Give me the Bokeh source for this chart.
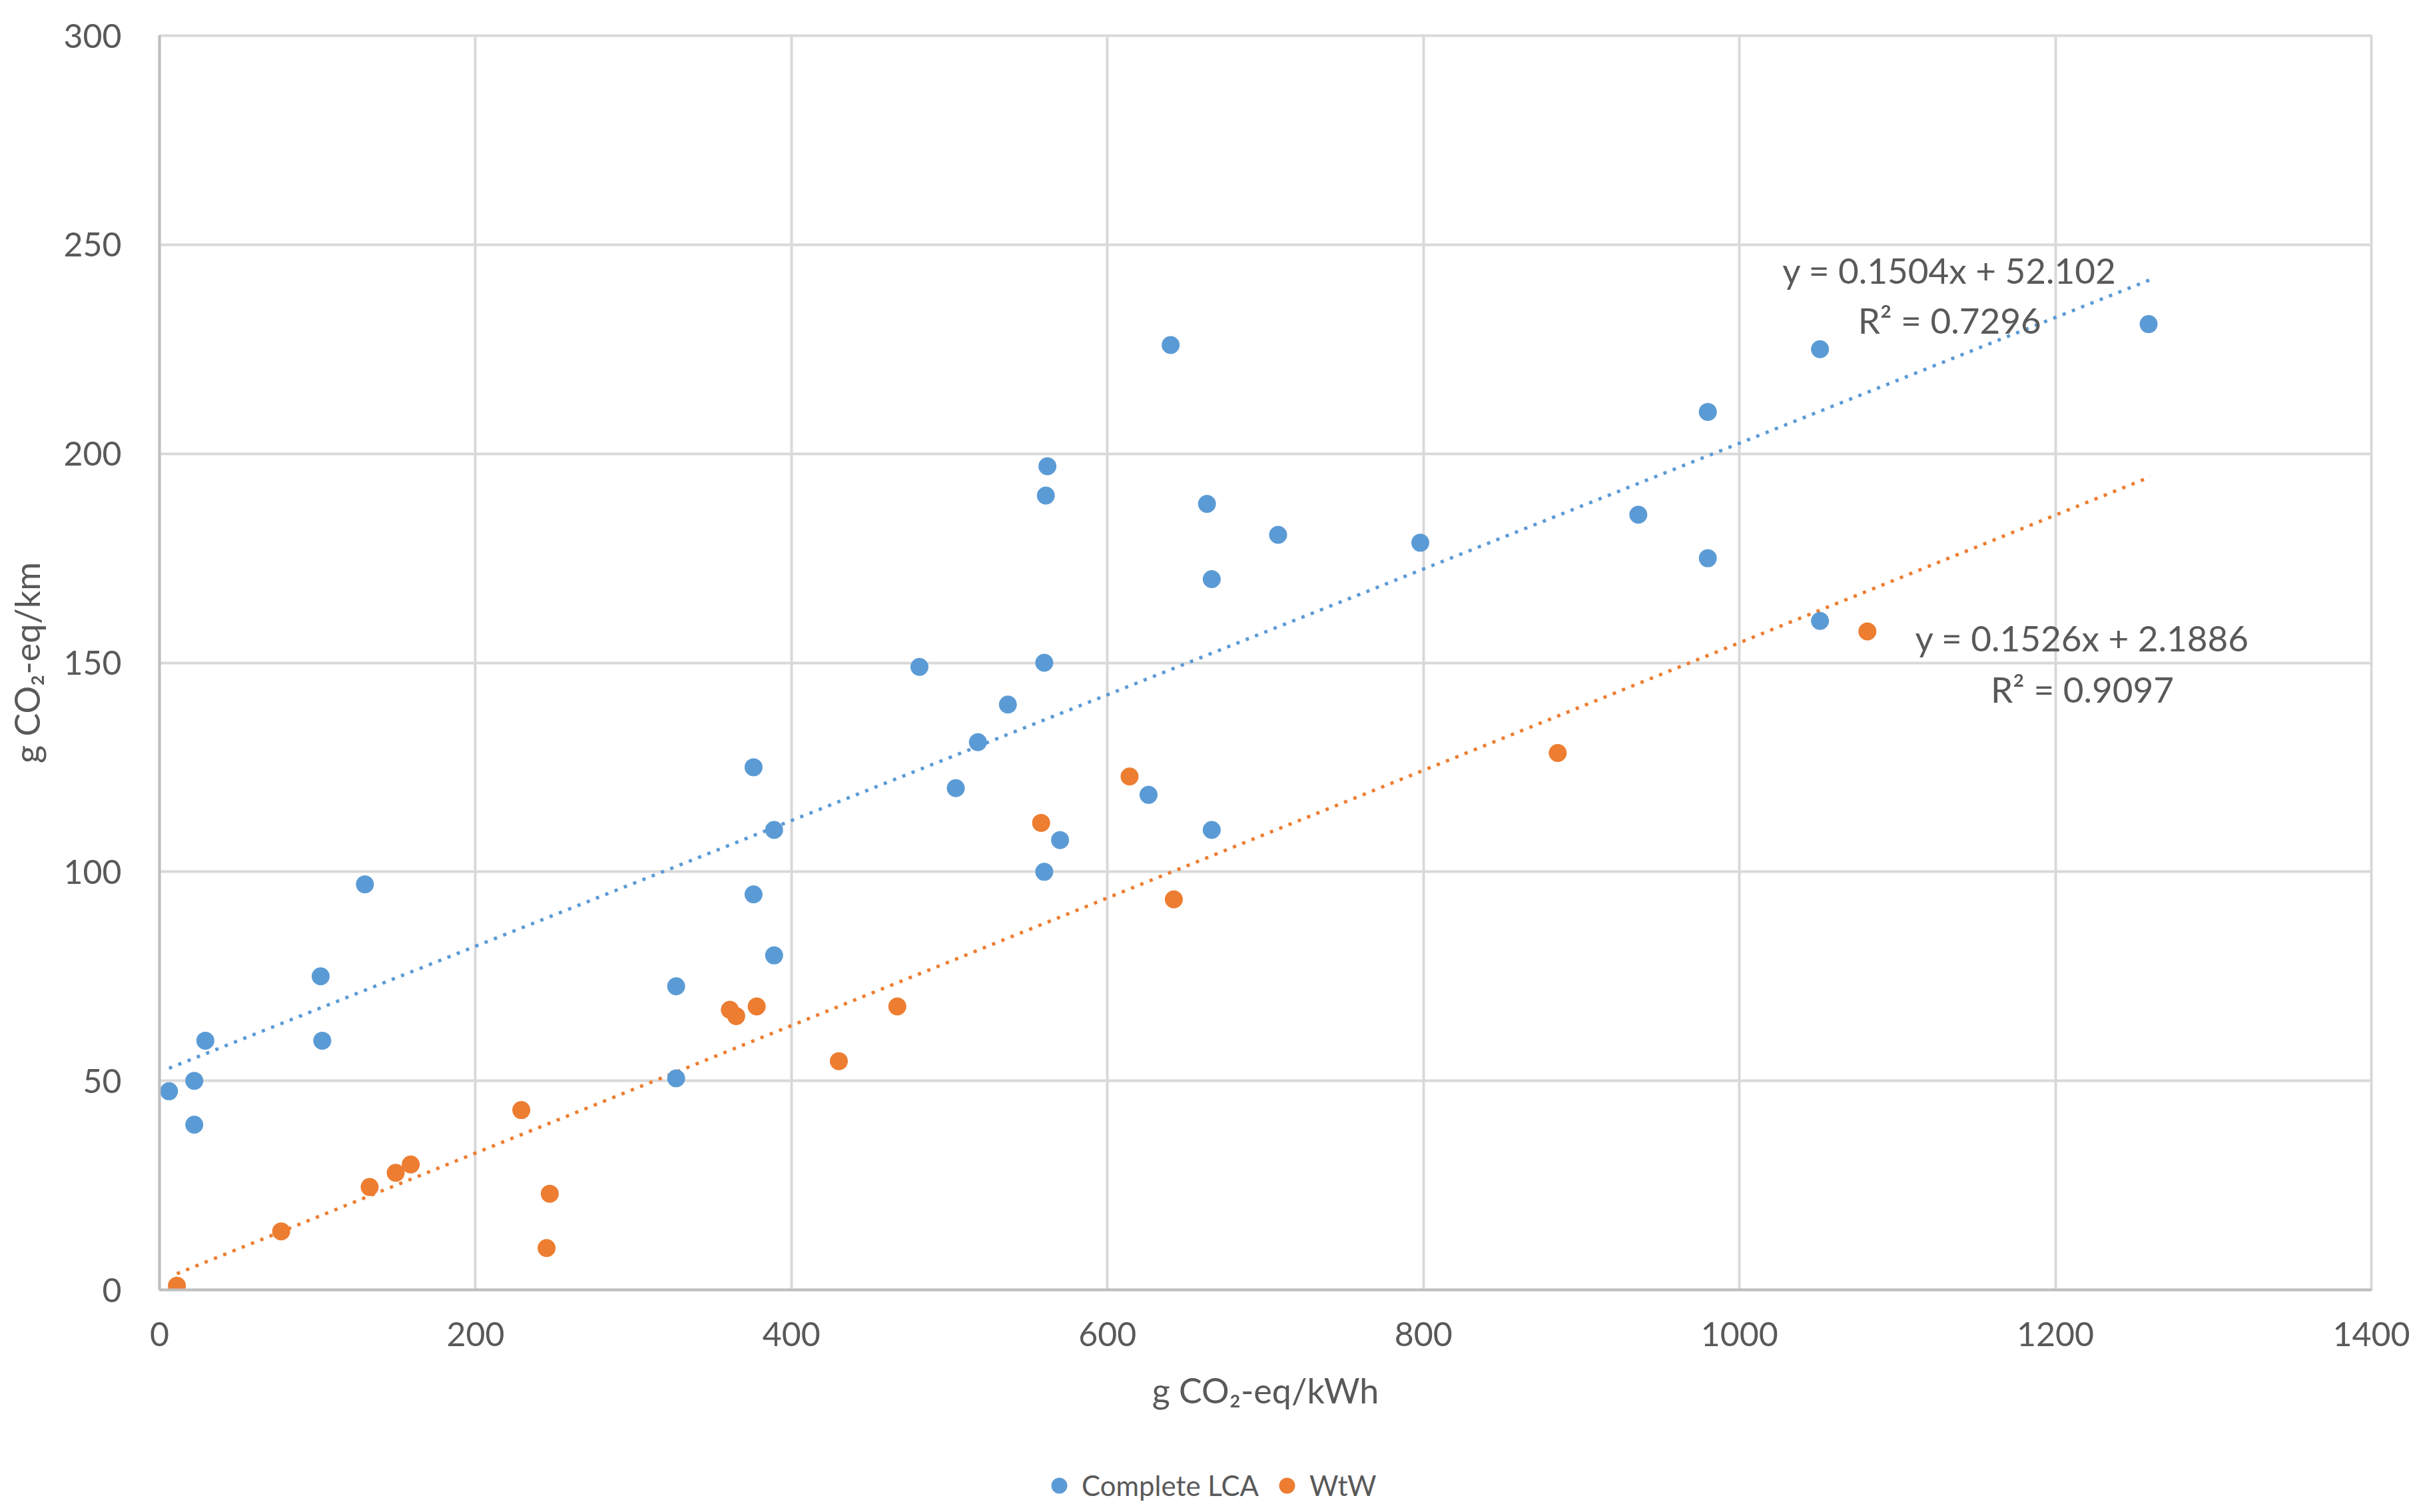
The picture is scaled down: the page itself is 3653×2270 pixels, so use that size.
from bokeh.plotting import figure
from bokeh.layouts import column
from bokeh.models import Legend, LegendItem, Label, FixedTicker, Range1d
from bokeh.embed import file_html
from bokeh.resources import INLINE

# ---- data ----
lca_x = [6, 22, 22, 29, 102, 103, 130, 327, 327, 376, 376, 389, 389, 481, 504, 518, 537,
         560, 560, 562, 561, 570, 626, 640, 663, 666, 666, 708, 798, 936, 980, 980, 1051, 1051, 1259]
lca_y = [47.5, 50, 39.5, 59.6, 75, 59.6, 97, 72.6, 50.6, 125, 94.6, 110, 80, 149, 120, 131, 140,
         150, 100, 197, 190, 107.6, 118.4, 226, 188, 170, 110, 180.6, 178.7, 185.4, 210, 175, 225, 160, 231]

wtw_x = [11, 77, 133, 149.5, 159, 229, 245, 247, 361, 365, 378, 430, 467, 558, 614, 642, 885, 1081]
wtw_y = [1, 14, 24.6, 28, 30, 43, 10, 23, 67, 65.5, 67.8, 54.7, 67.8, 111.7, 122.8, 93.4, 128.4, 157.5]

lca_slope, lca_intercept, lca_r2 = 0.1504, 52.102, 0.7296
wtw_slope, wtw_intercept, wtw_r2 = 0.1526, 2.1886, 0.9097
lca_trend_x = [6, 1260]
wtw_trend_x = [11, 1260]

x_ticks = [0, 200, 400, 600, 800, 1000, 1200, 1400]
y_ticks = [0, 50, 100, 150, 200, 250, 300]

series_names = ["Complete LCA", "WtW"]
x_title = "g CO\u2082-eq/kWh"
y_title = "g CO\u2082-eq/km"

BLUE = "#5B9BD5"
ORANGE = "#ED7D31"
TEXT = "#595959"
GRID = "#D9D9D9"
FONT = "Lato"

W = 3637
H_MAIN = 2166
H_LEG = 88

p = figure(width=W, height=H_MAIN, output_backend="svg", toolbar_location=None,
           x_range=Range1d(0, 1400), y_range=Range1d(0, 300),
           min_border_left=239, min_border_right=77, min_border_top=53, min_border_bottom=230)
p.background_fill_color = "white"
p.border_fill_color = "white"
p.outline_line_color = GRID
p.outline_line_width = 4

for ax in (p.xaxis[0], p.yaxis[0]):
    ax.major_tick_in = 0
    ax.major_tick_out = 0
    ax.minor_tick_in = 0
    ax.minor_tick_out = 0
    ax.axis_line_color = "#BFBFBF"
    ax.axis_line_width = 4
    ax.major_label_text_font = FONT
    ax.major_label_text_font_size = "50px"
    ax.major_label_text_color = TEXT
    ax.axis_label_text_font = FONT
    ax.axis_label_text_font_size = "52px"
    ax.axis_label_text_color = TEXT
    ax.axis_label_text_font_style = "normal"

p.xaxis[0].ticker = FixedTicker(ticks=x_ticks)
p.yaxis[0].ticker = FixedTicker(ticks=y_ticks)
p.xaxis[0].axis_label = x_title
p.yaxis[0].axis_label = y_title
p.xaxis[0].major_label_standoff = 48
p.yaxis[0].major_label_standoff = 57
p.xaxis[0].axis_label_standoff = 32
p.yaxis[0].axis_label_standoff = 21

for g in (p.xgrid[0], p.ygrid[0]):
    g.grid_line_color = GRID
    g.grid_line_width = 4

# trendlines
lca_trend_y = [lca_slope * v + lca_intercept for v in lca_trend_x]
wtw_trend_y = [wtw_slope * v + wtw_intercept for v in wtw_trend_x]
p.line(lca_trend_x, lca_trend_y, line_color=BLUE, line_width=5, line_dash="5 10")
p.line(wtw_trend_x, wtw_trend_y, line_color=ORANGE, line_width=5, line_dash="5 10")

p.scatter(lca_x, lca_y, size=27, fill_color=BLUE, line_color=BLUE, line_width=0)
p.scatter(wtw_x, wtw_y, size=27, fill_color=ORANGE, line_color=ORANGE, line_width=0)

# trendline equations
def add_label(x, y, txt):
    p.add_layout(Label(x=x, y=y, text=txt, text_font=FONT, text_font_size="53px",
                       text_color=TEXT, text_align="center", text_baseline="alphabetic"))

add_label(1133, 243.9, f"y = {lca_slope}x + {lca_intercept}")
add_label(1133, 232.0, f"R\u00b2 = {lca_r2}")
add_label(1217, 156.0, f"y = {wtw_slope}x + {wtw_intercept}")
add_label(1217, 143.7, f"R\u00b2 = {wtw_r2}")

# ---- legend strip below the chart (its ranges keep the series out of view) ----
lg = figure(width=W, height=H_LEG, output_backend="svg", toolbar_location=None,
            x_range=Range1d(-5000, -5000 + W), y_range=Range1d(-5000, -5000 + H_LEG),
            x_axis_type=None, y_axis_type=None,
            min_border_left=0, min_border_right=0, min_border_top=0, min_border_bottom=0)
lg.outline_line_color = None
lg.background_fill_color = "white"
lg.border_fill_color = "white"
lg.xgrid.visible = False
lg.ygrid.visible = False
k1 = lg.scatter(lca_x, lca_y, size=27, fill_color=BLUE, line_color=BLUE, line_width=0)
k2 = lg.scatter(wtw_x, wtw_y, size=27, fill_color=ORANGE, line_color=ORANGE, line_width=0)

legend = Legend(items=[LegendItem(label=series_names[0], renderers=[k1]),
                       LegendItem(label=series_names[1], renderers=[k2])],
                orientation="horizontal", location=(1317, -6),
                glyph_width=68, glyph_height=60, label_standoff=-9, spacing=8,
                padding=0, margin=0, border_line_color=None, background_fill_alpha=0,
                label_text_font=FONT, label_text_font_size="42px", label_text_color=TEXT)
lg.add_layout(legend, "center")

layout = column(p, lg, spacing=0)
open("out.html", "w").write(file_html(layout, INLINE))
